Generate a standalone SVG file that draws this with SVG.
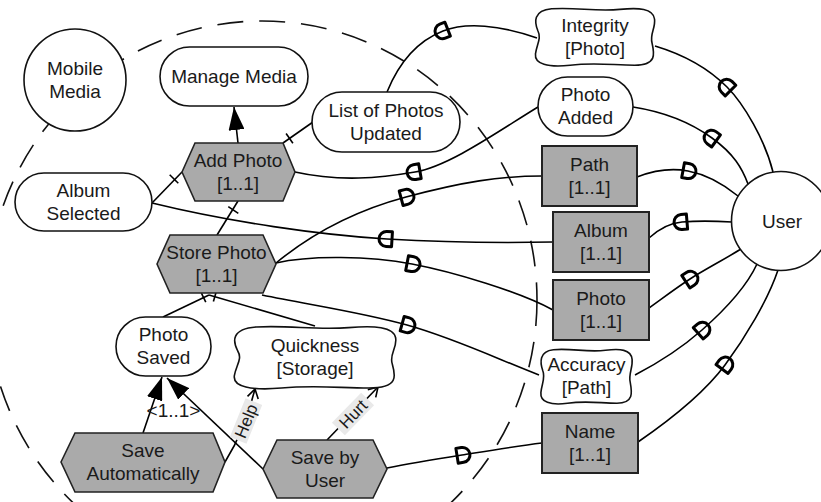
<svg xmlns="http://www.w3.org/2000/svg" width="821" height="502" viewBox="0 0 821 502">
<style>
text{font-family:"Liberation Sans",Arial,sans-serif;font-size:19px;fill:#1a1a1a;text-anchor:middle}
.goal{fill:#fff;stroke:#111;stroke-width:1.6}
.task{fill:#aaaaaa;stroke:#222;stroke-width:1.6}
.res{fill:#aaaaaa;stroke:#222;stroke-width:2}
.actor{fill:#fff;stroke:#111;stroke-width:1.6}
.ln{fill:none;stroke:#000;stroke-width:1.6}
.dm{fill:none;stroke:#000;stroke-width:3;stroke-linejoin:round}
.lbl{font-size:17px}
.lblbg{fill:#e9e9e9}
.boundary{fill:none;stroke:#111;stroke-width:1.6;stroke-dasharray:26 16}
</style>
<defs>
<marker id="dep" viewBox="-12 -12 24 24" refX="0" refY="0" markerWidth="24" markerHeight="24" markerUnits="userSpaceOnUse" orient="auto"><path class="dm" d="M-5,-7.5 H0.5 A7.5,7.5 0 0 1 0.5,7.5 H-5 Z"/></marker>
<marker id="depR" viewBox="-12 -12 24 24" refX="0" refY="0" markerWidth="24" markerHeight="24" markerUnits="userSpaceOnUse" orient="auto"><path class="dm" d="M5,-7.5 H-0.5 A7.5,7.5 0 0 0 -0.5,7.5 H5 Z"/></marker>
<marker id="arrF" viewBox="0 0 23 16" refX="23" refY="8" markerWidth="23" markerHeight="16" markerUnits="userSpaceOnUse" orient="auto"><path d="M0,0 L23,8 L0,16 Z" fill="#000"/></marker>
<marker id="arrO" viewBox="-12 -8 14 16" refX="0" refY="0" markerWidth="14" markerHeight="16" markerUnits="userSpaceOnUse" orient="auto"><path d="M-9,-5.5 L0,0 L-9,5.5" fill="none" stroke="#000" stroke-width="1.6"/></marker>
<path id="cloud" d="M15,3 C35,0 50,8 70,4 C85,1 97,2 98,20 C99,35 94,45 96,60 C98,78 100,97 82,97 C65,97 50,92 30,97 C12,101 1,95 2,78 C3,62 7,52 4,40 C1,25 0,6 15,3 Z" fill="#fff" stroke="#111" stroke-width="1.6" vector-effect="non-scaling-stroke"/>
</defs>
<rect width="821" height="502" fill="#fff"/>
<ellipse id="boundary" class="boundary" cx="262" cy="300" rx="275" ry="279"/>
<g id="connectors">
<path class="ln" marker-mid="url(#depR)" d="M387,92 C400,60 420,40 443,31 S500,25 537,38"/>
<path class="ln" marker-mid="url(#depR)" d="M655,46 C685,55 710,70 727,87 S765,140 773,172"/>
<path class="ln" marker-mid="url(#depR)" d="M295,172 C340,182 380,178 415,172 S500,130 538,107"/>
<path class="ln" marker-mid="url(#depR)" d="M633,107 C665,112 690,122 712,138 S742,168 748,184"/>
<path class="ln" marker-mid="url(#dep)" d="M276,263 C310,235 350,212 406,197 S500,176 542,176"/>
<path class="ln" marker-mid="url(#dep)" d="M637,177 C655,170 672,168 688,171 S722,183 738,196"/>
<path class="ln" marker-mid="url(#depR)" d="M152,203 C230,222 320,235 387,239 S500,243 553,242"/>
<path class="ln" marker-mid="url(#depR)" d="M649,238 C660,228 670,223 682,222 S715,221 732,222"/>
<path class="ln" marker-mid="url(#dep)" d="M276,263 C310,255 370,256 412,264 S520,292 553,310"/>
<path class="ln" marker-mid="url(#dep)" d="M649,308 C663,298 676,288 690,279 S725,259 741,249"/>
<path class="ln" marker-mid="url(#dep)" d="M262,295 C310,305 360,312 407,325 S500,360 539,375"/>
<path class="ln" marker-mid="url(#dep)" d="M635,375 C660,362 685,345 702,330 S745,290 757,264"/>
<path class="ln" marker-mid="url(#dep)" d="M387,468 C412,463 437,459 462,455 S517,446 542,443"/>
<path class="ln" marker-mid="url(#dep)" d="M638,442 C670,420 705,392 725,365 S768,300 778,270"/>
<path class="ln" d="M238,143 L234,107" marker-end="url(#arrF)"/>
<path class="ln" d="M283,143 L313,122"/>
<path class="ln" d="M286.1,133.5 L292.9,143.3"/>
<path class="ln" d="M152,203 L182,172"/>
<path class="ln" d="M169.7,174.8 L178.3,183.2"/>
<path class="ln" d="M238,201 L217,235"/>
<path class="ln" d="M228.3,206.7 L238.3,213.3"/>
<path class="ln" d="M163,317 L209,295"/>
<path class="ln" d="M201.4,293.1 L205.8,302.1"/>
<path class="ln" d="M315,326 L209,295"/>
<path class="ln" d="M213.4,301.5 L216.2,291.9"/>
<path class="ln" d="M143,433 L162,377" marker-end="url(#arrF)"/>
<path class="ln" d="M263,469 L167,378" marker-end="url(#arrF)"/>
<path class="ln" d="M225,462 Q245,430 255,389" marker-end="url(#arrO)"/>
<path class="ln" d="M327,440 L378,387" marker-end="url(#arrO)"/>
<text x="173.5" y="417">&lt;1..1&gt;</text>
<g transform="translate(246,421) rotate(-68)"><rect class="lblbg" x="-21" y="-9" width="42" height="18"/><text class="lbl" x="0" y="6">Help</text></g>
<g transform="translate(353,414) rotate(-46)"><rect class="lblbg" x="-21" y="-9" width="42" height="18"/><text class="lbl" x="0" y="6">Hurt</text></g>
</g>
<g id="mobile-media"><circle class="actor" cx="75" cy="80" r="51"/><text x="75" y="75">Mobile</text><text x="75" y="98">Media</text></g>
<g id="user"><circle class="actor" cx="781" cy="221" r="49.5"/><text x="782" y="228">User</text></g>
<g id="manage-media"><rect class="goal" x="160" y="47" width="148" height="59" rx="29.5"/><text x="234" y="83">Manage Media</text></g>
<g id="list-of-photos-updated"><rect class="goal" x="312" y="92" width="148" height="60" rx="30"/><text x="386" y="117">List of Photos</text><text x="386" y="140">Updated</text></g>
<g id="album-selected"><rect class="goal" x="15" y="173" width="137" height="58" rx="29"/><text x="83.5" y="197">Album</text><text x="83.5" y="220">Selected</text></g>
<g id="photo-added"><rect class="goal" x="538" y="77" width="95" height="59" rx="29.5"/><text x="585.5" y="101">Photo</text><text x="585.5" y="124">Added</text></g>
<g id="photo-saved"><rect class="goal" x="116" y="317" width="95" height="59" rx="29.5"/><text x="163.5" y="341">Photo</text><text x="163.5" y="364">Saved</text></g>
<g id="integrity-photo"><use href="#cloud" transform="translate(533,7) scale(1.24,0.6)"/><text x="595" y="32">Integrity</text><text x="595" y="55">[Photo]</text></g>
<g id="quickness-storage"><use href="#cloud" transform="translate(231,325) scale(1.68,0.65)"/><text x="315" y="352">Quickness</text><text x="315" y="375">[Storage]</text></g>
<g id="accuracy-path"><use href="#cloud" transform="translate(539,348) scale(0.95,0.57)"/><text x="586.5" y="371">Accuracy</text><text x="586.5" y="394">[Path]</text></g>
<g id="add-photo"><polygon class="task" points="182,172 195,143 283,143 295,172 283,201 195,201"/><text x="238" y="167">Add Photo</text><text x="238" y="190">[1..1]</text></g>
<g id="store-photo"><polygon class="task" points="157,264 170,235 263,235 276,264 263,293 170,293"/><text x="216.5" y="259">Store Photo</text><text x="216.5" y="282">[1..1]</text></g>
<g id="save-automatically"><polygon class="task" points="61,462 75,433 213,433 225,462 213,492 75,492"/><text x="143" y="457">Save</text><text x="143" y="480">Automatically</text></g>
<g id="save-by-user"><polygon class="task" points="263,469 277,440 373,440 387,469 373,498 277,498"/><text x="325" y="464">Save by</text><text x="325" y="487">User</text></g>
<g id="path-res"><rect class="res" x="542" y="146" width="95" height="60"/><text x="589.5" y="171">Path</text><text x="589.5" y="194">[1..1]</text></g>
<g id="album-res"><rect class="res" x="553" y="212" width="96" height="60"/><text x="601" y="237">Album</text><text x="601" y="260">[1..1]</text></g>
<g id="photo-res"><rect class="res" x="553" y="280" width="96" height="60"/><text x="601" y="305">Photo</text><text x="601" y="328">[1..1]</text></g>
<g id="name-res"><rect class="res" x="542" y="413" width="96" height="60"/><text x="590" y="438">Name</text><text x="590" y="461">[1..1]</text></g>
</svg>
